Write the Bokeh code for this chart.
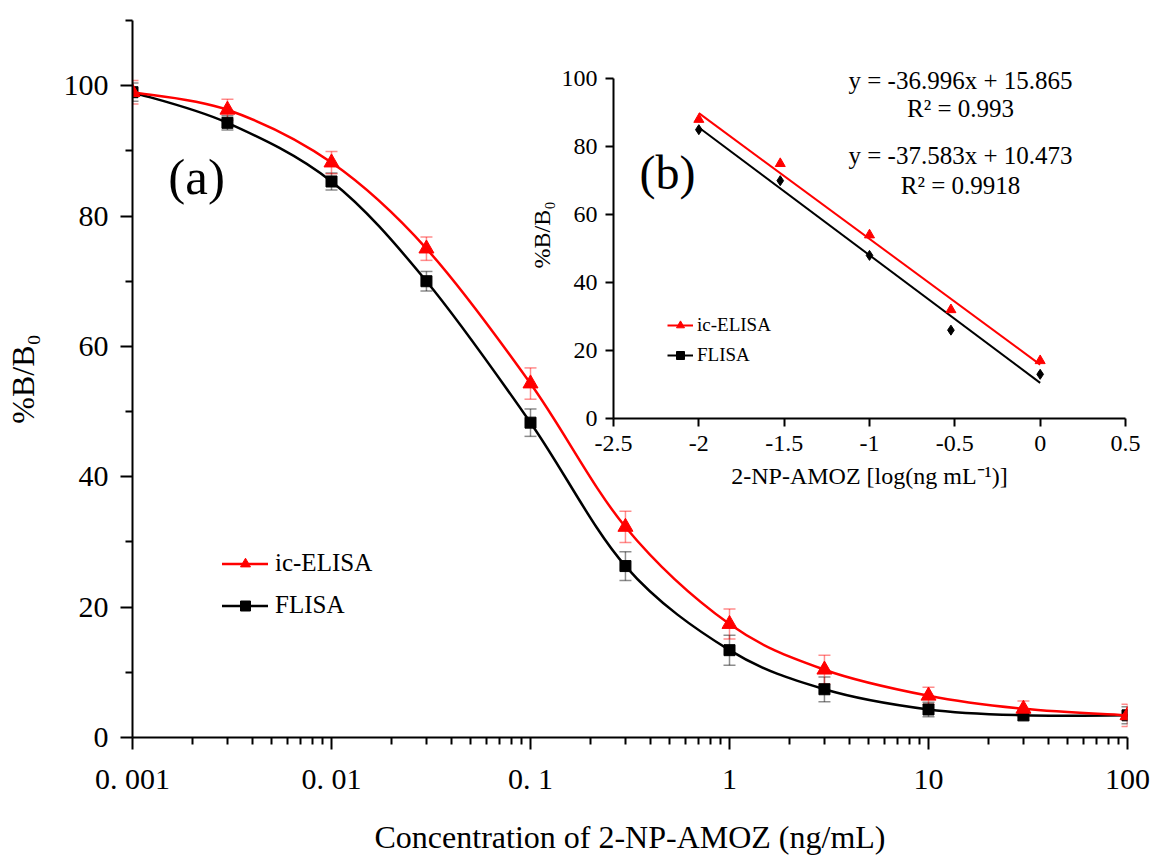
import numpy as np
from bokeh.plotting import figure
from bokeh.models import (ColumnDataSource, Whisker, TeeHead, FixedTicker, Legend,
                          LegendItem, Label)
from bokeh.layouts import column
from bokeh.embed import file_html
from bokeh.resources import INLINE

# ---------------- data ----------------
conc = [0.001, 0.003, 0.01, 0.03, 0.1, 0.3, 1, 3, 10, 30, 100]
ic_elisa = [99, 96.3, 88.2, 75, 54.3, 32.3, 17.4, 10.4, 6.4, 4.4, 3.4]
ic_err = [1.8, 1.6, 1.7, 1.8, 2.4, 2.4, 2.3, 2.2, 1.3, 1.2, 1.7]
flisa = [99, 94.3, 85.3, 70, 48.3, 26.3, 13.4, 7.4, 4.3, 3.4, 3.4]
fl_err = [1.4, 1.1, 1.3, 1.5, 2.1, 2.2, 2.3, 1.9, 1.1, 0.8, 1.3]

inset_conc = [0.01, 0.03, 0.1, 0.3, 1]
inset_ic = [88, 75, 54, 32, 17]
inset_fl = [85, 70, 48, 26, 13]
ic_slope, ic_intercept, ic_r2 = -36.996, 15.865, "0.993"
fl_slope, fl_intercept, fl_r2 = -37.583, 10.473, "0.9918"

x_major = [0.001, 0.01, 0.1, 1, 10, 100]
x_labels = ["0. 001", "0. 01", "0. 1", "1", "10", "100"]
y_major = [0, 20, 40, 60, 80, 100]
y_minor = [10, 30, 50, 70, 90, 110]
inset_x_ticks = [-2.5, -2, -1.5, -1, -0.5, 0, 0.5]
inset_x_labels = ["-2.5", "-2", "-1.5", "-1", "-0.5", "0", "0.5"]
inset_y_ticks = [0, 20, 40, 60, 80, 100]

FONT = "Liberation Serif"
RED = "#ff0000"


def smooth_segments(xs, ys):
    """Excel-like smoothed line: Catmull-Rom control points in (log10 x, y)."""
    lx = np.log10(np.asarray(xs, float))
    y = np.asarray(ys, float)
    n = len(lx)
    d = {k: [] for k in ("x0", "y0", "x1", "y1", "cx0", "cy0", "cx1", "cy1")}
    for i in range(n - 1):
        a = max(i - 1, 0)
        b = min(i + 2, n - 1)
        d["x0"].append(10 ** lx[i]); d["y0"].append(y[i])
        d["x1"].append(10 ** lx[i + 1]); d["y1"].append(y[i + 1])
        d["cx0"].append(10 ** (lx[i] + (lx[i + 1] - lx[a]) / 6))
        d["cy0"].append(y[i] + (y[i + 1] - y[a]) / 6)
        d["cx1"].append(10 ** (lx[i + 1] - (lx[b] - lx[i]) / 6))
        d["cy1"].append(y[i + 1] - (y[b] - y[i]) / 6)
    return ColumnDataSource(d)


# ---------------- main plot ----------------
main = figure(frame_width=995, frame_height=720, x_axis_type="log", x_range=(0.001, 100),
              y_range=(0, 110), output_backend="svg", toolbar_location=None,
              min_border_left=132, min_border_right=24, min_border_top=20, min_border_bottom=112)
main.grid.visible = False
main.outline_line_color = None

series = [
    ("FLISA", flisa, fl_err, "black", "#000000", 0.45, "square", 11),
    ("ic-ELISA", ic_elisa, ic_err, RED, RED, 0.45, "triangle", 15),
]
items = {}
for name, vals, err, col, ecol, ealpha, marker, msize in series:
    src = ColumnDataSource(dict(x=conc, y=vals,
                                lo=[v - e for v, e in zip(vals, err)],
                                hi=[v + e for v, e in zip(vals, err)]))
    w = Whisker(source=src, base="x", lower="lo", upper="hi", dimension="height",
                line_color=ecol, line_alpha=ealpha, line_width=1.5, level="underlay",
                upper_head=TeeHead(size=12, line_color=ecol, line_alpha=ealpha, line_width=1.5),
                lower_head=TeeHead(size=12, line_color=ecol, line_alpha=ealpha, line_width=1.5))
    main.add_layout(w)
    curve = main.bezier(x0="x0", y0="y0", x1="x1", y1="y1", cx0="cx0", cy0="cy0",
                        cx1="cx1", cy1="cy1", source=smooth_segments(conc, vals),
                        line_color=col, line_width=2.5, line_cap="round")
    pts = main.scatter(x="x", y="y", source=src, marker=marker, size=msize,
                       fill_color=col, line_color=col)
    items[name] = LegendItem(label=name, renderers=[curve, pts])

legend = Legend(items=[items["ic-ELISA"], items["FLISA"]], location=(90, 118),
                glyph_width=46, glyph_height=25, label_height=25, spacing=14,
                padding=0, margin=0, label_standoff=7,
                border_line_alpha=0, background_fill_alpha=0,
                label_text_font=FONT, label_text_font_size="25px", label_text_color="black")
main.add_layout(legend)

xa = main.xaxis[0]
xa.ticker = FixedTicker(ticks=x_major,
                        minor_ticks=[m * 10.0 ** e for e in range(-3, 2) for m in range(2, 10)])
xa.major_label_overrides = dict(zip(x_major, x_labels))
xa.axis_label = "Concentration of 2-NP-AMOZ (ng/mL)"
xa.major_label_standoff = 12
xa.axis_label_standoff = 21
xa.axis_label_text_font_size = "32px"

ya = main.yaxis[0]
ya.ticker = FixedTicker(ticks=y_major, minor_ticks=y_minor)
ya.axis_label = "%B/B\u2080"
ya.major_label_standoff = 12
ya.axis_label_standoff = 20
ya.axis_label_text_font_size = "32px"

for ax in (xa, ya):
    ax.axis_line_width = 2
    ax.axis_line_color = "black"
    ax.major_tick_line_width = 2
    ax.minor_tick_line_width = 2
    ax.major_tick_out = 12
    ax.major_tick_in = 0
    ax.minor_tick_out = 7
    ax.minor_tick_in = 0
    ax.major_label_text_font = FONT
    ax.major_label_text_font_size = "30px"
    ax.major_label_text_color = "black"
    ax.axis_label_text_font = FONT
    ax.axis_label_text_font_style = "normal"
    ax.axis_label_text_color = "black"

main.add_layout(Label(x=0.0021, y=86, text="(a)", text_font=FONT, text_font_size="51px",
                      text_color="black", text_align="center", text_baseline="middle"))

# ---------------- inset plot ----------------
INSET_TOP = 108  # y range head-room so the equation texts are not clipped
ins = figure(frame_width=512, frame_height=367, x_range=(-2.5, 0.5), y_range=(0, INSET_TOP),
             output_backend="svg", toolbar_location=None,
             min_border_left=130, min_border_right=26, min_border_top=10, min_border_bottom=80,
             background_fill_alpha=0, border_fill_alpha=0)
ins.grid.visible = False
ins.outline_line_color = None

log_c = np.log10(np.asarray(inset_conc, float))
fit_x = np.array([log_c.min(), log_c.max()])

ic_line = ins.line(fit_x, ic_slope * fit_x + ic_intercept, line_color=RED, line_width=2)
fl_line = ins.line(fit_x, fl_slope * fit_x + fl_intercept, line_color="black", line_width=2)
ic_ipts = ins.scatter(log_c, inset_ic, marker="triangle", size=10, color=RED)
ins.scatter(log_c, inset_fl, marker="diamond", size=10, color="black")
fl_sq = ins.scatter(log_c, inset_fl, marker="square", size=6, color="black", visible=False)

ins_legend = Legend(items=[LegendItem(label="ic-ELISA", renderers=[ic_line, ic_ipts]),
                           LegendItem(label="FLISA", renderers=[fl_line, fl_sq])],
                    location=(54, 52), glyph_width=26, glyph_height=20, label_height=20,
                    spacing=8, padding=0, margin=0, label_standoff=4,
                    border_line_alpha=0, background_fill_alpha=0,
                    label_text_font=FONT, label_text_font_size="19px", label_text_color="black")
ins.add_layout(ins_legend)

eq_x = -0.467
for txt, yy in ((f"y = {ic_slope}x + {ic_intercept}", 99.4), (f"R\u00b2 = {ic_r2}", 91.2),
                (f"y = {fl_slope}x + {fl_intercept}", 77.4), (f"R\u00b2 = {fl_r2}", 68.5)):
    ins.add_layout(Label(x=eq_x, y=yy, text=txt, text_font=FONT, text_font_size="25px",
                         text_color="black", text_align="center", text_baseline="middle"))
ins.add_layout(Label(x=-2.184, y=72.4, text="(b)", text_font=FONT, text_font_size="48px",
                     text_color="black", text_align="center", text_baseline="middle"))

ixa = ins.xaxis[0]
ixa.ticker = FixedTicker(ticks=inset_x_ticks, minor_ticks=[])
ixa.major_label_overrides = dict(zip(inset_x_ticks, inset_x_labels))
ixa.axis_label = "2-NP-AMOZ [log(ng mL\u207b\u00b9)]"
ixa.major_label_standoff = 9
ixa.axis_label_standoff = 9
iya = ins.yaxis[0]
iya.ticker = FixedTicker(ticks=inset_y_ticks, minor_ticks=[])
iya.bounds = (0, 100)
iya.axis_label = "%B/B\u2080"
iya.major_label_standoff = 8
iya.axis_label_standoff = 4
for ax in (ixa, iya):
    ax.axis_line_width = 2
    ax.axis_line_color = "black"
    ax.major_tick_line_width = 2
    ax.major_tick_out = 8
    ax.major_tick_in = 0
    ax.minor_tick_line_color = None
    ax.major_label_text_font = FONT
    ax.major_label_text_font_size = "24px"
    ax.major_label_text_color = "black"
    ax.axis_label_text_font = FONT
    ax.axis_label_text_font_size = "24px"
    ax.axis_label_text_font_style = "normal"
    ax.axis_label_text_color = "black"

ins.styles = {"position": "absolute", "left": "481px", "top": "41px"}

p = column(main, ins)
p.styles = {"overflow": "hidden", "width": "1151px", "height": "857px"}
open("out.html", "w").write(file_html(p, INLINE))
